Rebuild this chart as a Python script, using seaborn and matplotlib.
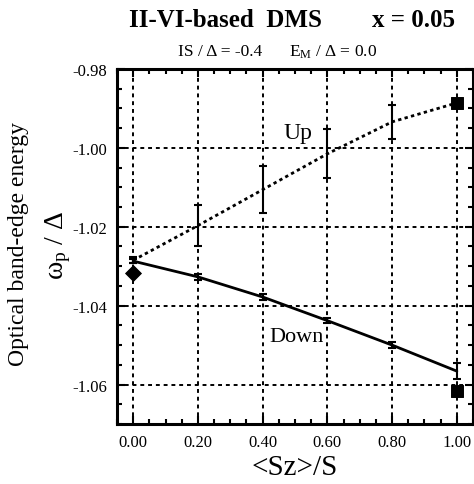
import matplotlib
matplotlib.use("Agg")
import matplotlib.pyplot as plt
import seaborn as sns
import numpy as np
import pandas as pd
from matplotlib.ticker import MultipleLocator

sns.set_theme(style="white")
plt.rcParams['font.family'] = ['Liberation Serif', 'DejaVu Serif']
plt.rcParams['mathtext.fontset'] = 'custom'
plt.rcParams['mathtext.rm'] = 'Liberation Serif'
plt.rcParams['mathtext.it'] = 'Liberation Serif'
plt.rcParams['text.color'] = 'black'
plt.rcParams['axes.labelcolor'] = 'black'
plt.rcParams['xtick.color'] = 'black'
plt.rcParams['ytick.color'] = 'black'

# data
sz = [0.0, 0.2, 0.4, 0.6, 0.8, 1.0]
up_vals = [-1.0285, -1.0197, -1.0106, -1.0015, -0.9934, -0.9886]
up_err = [0.0008, 0.0052, 0.0060, 0.0062, 0.0043, 0.0]
down_vals = [-1.0287, -1.0327, -1.0378, -1.0438, -1.0500, -1.0566]
down_err = [0.0006, 0.0007, 0.0007, 0.0007, 0.0007, 0.0020]
sq_x = [1.0, 1.0]
sq_y = [-0.9886, -1.0617]
dia_x = [0.0]
dia_y = [-1.0317]
xticks = [0.0, 0.2, 0.4, 0.6, 0.8, 1.0]
yticks = [-1.06, -1.04, -1.02, -1.00, -0.98]

df_up = pd.DataFrame({"x": sz, "y": up_vals})
df_down = pd.DataFrame({"x": sz, "y": down_vals})

fig = plt.figure(figsize=(4.74, 4.85), dpi=100)
ax = fig.add_axes([0.2468, 0.1237, 0.7512, 0.732])

ax.grid(True, which='major', color='black', linestyle=(0, (2, 2)), linewidth=1.4)

sns.lineplot(data=df_up, x="x", y="y", ax=ax, color='black', linewidth=2.0,
             linestyle=(0, (1.2, 1.2)), estimator=None, sort=True)
sns.lineplot(data=df_down, x="x", y="y", ax=ax, color='black', linewidth=2.0,
             estimator=None, sort=True)
ax.errorbar(sz, up_vals, yerr=up_err, fmt='none', ecolor='black', elinewidth=1.5,
            capsize=3, capthick=1.5)
ax.errorbar(sz, down_vals, yerr=down_err, fmt='none', ecolor='black', elinewidth=1.5,
            capsize=3, capthick=1.5)
sns.scatterplot(x=sq_x, y=sq_y, ax=ax, marker='s', s=75, color='black', edgecolor='black', zorder=5)
sns.scatterplot(x=dia_x, y=dia_y, ax=ax, marker='D', s=65, color='black', edgecolor='black', zorder=5)

ax.set_xlim(-0.05, 1.05)
ax.set_ylim(-1.07, -0.98)
ax.set_xticks(xticks)
ax.set_yticks(yticks)
ax.set_xticklabels([f"{v:.2f}" for v in xticks])
ax.set_yticklabels([f"{v:.2f}" for v in yticks])
ax.xaxis.set_minor_locator(MultipleLocator(0.05))
ax.yaxis.set_minor_locator(MultipleLocator(0.005))
ax.tick_params(which='both', direction='in', top=True, right=True, bottom=True, left=True,
               color='black', width=1.5)
ax.tick_params(which='major', length=6, labelsize=12, labelcolor='black')
ax.tick_params(which='minor', length=3.5)
ax.tick_params(axis='y', pad=7)
ax.tick_params(axis='x', pad=7)
for s in ax.spines.values():
    s.set_color('black')
    s.set_linewidth(2.2)
ax.set_xlabel("")
ax.set_ylabel("")

ax.text(0.51, -0.9962, "Up", fontsize=17, ha='center', va='center', color='black')
ax.text(0.505, -1.0479, "Down", fontsize=16, ha='center', va='center', color='black')

fig.text(0.475, 0.958, "II-VI-based  DMS", fontsize=18, fontweight='bold', ha='center', va='center', color='black')
fig.text(0.873, 0.958, "x = 0.05", fontsize=18, fontweight='bold', ha='center', va='center', color='black')
fig.text(0.464, 0.893, "IS / Δ = -0.4", fontsize=12.5, ha='center', va='center', color='black')
fig.text(0.703, 0.893, r"E$_{\rm M}$ / Δ = 0.0", fontsize=12.5, ha='center', va='center', color='black')

fig.text(0.622, 0.035, "<Sz>/S", fontsize=21, ha='center', va='center', color='black')
fig.text(0.038, 0.497, "Optical band-edge energy", fontsize=17, rotation=90, ha='center', va='center', color='black')
fig.text(0.122, 0.495, r"ω$_{\rm p}$ / Δ", fontsize=20, rotation=90, ha='center', va='center', color='black')

fig.savefig("out.png", dpi=100)
